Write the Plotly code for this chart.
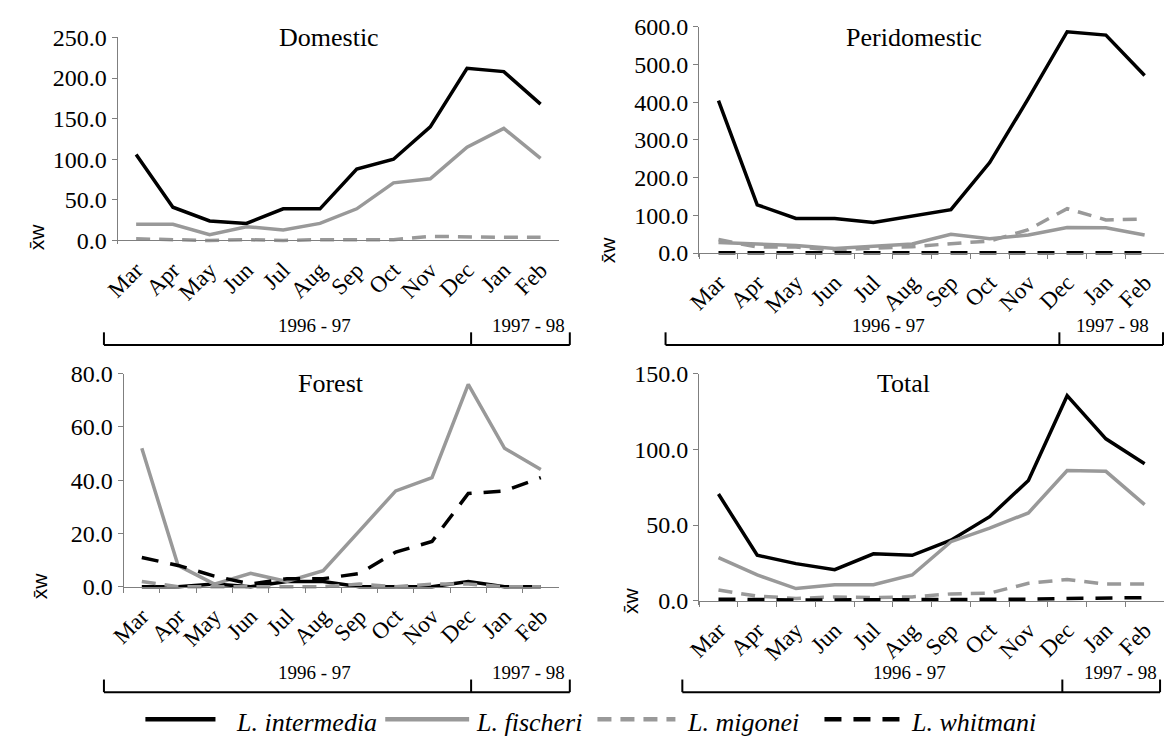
import plotly.graph_objects as go

# page body has a default 8px margin; figure is sized to fit inside it
OFF = 8
W, H = 1172 - 2 * OFF, 746 - 2 * OFF

months = ["Mar", "Apr", "May", "Jun", "Jul", "Aug", "Sep", "Oct", "Nov", "Dec", "Jan", "Feb"]

# Domestic
dom_intermedia = [106, 41, 24, 21, 39, 39, 88, 100, 140, 212, 208, 168]
dom_fischeri = [20, 20, 7, 17, 13, 21, 39, 71, 76, 115, 138, 101]
dom_migonei = [2, 1, 0, 1, 0, 1, 1, 1, 5, 4, 4, 4]

# Peridomestic
peri_intermedia = [404, 128, 92, 92, 81, 98, 115, 240, 410, 587, 578, 471]
peri_fischeri = [28, 24, 20, 12, 18, 24, 50, 38, 48, 68, 67, 48]
peri_migonei = [36, 16, 16, 8, 13, 17, 25, 32, 62, 118, 88, 90]
peri_whitmani = [1, 1, 1, 1, 1, 1, 1, 1, 1, 1, 1, 1]

# Forest
for_intermedia = [0, 0, 1, 0, 2, 2, 0, 0, 0, 2, 0, 0]
for_fischeri = [52, 8, 1, 5, 2, 6, 21, 36, 41, 76, 52, 44]
for_migonei = [2, 0, 0, 0, 0, 0, 1, 0, 1, 1, 0, 0]
for_whitmani = [11, 8, 4, 1, 3, 3, 5, 13, 17, 35, 36, 41]

# Total
tot_intermedia = [70.5, 30, 24.5, 20.5, 31, 30, 40, 55.5, 79.5, 135.5, 107, 90.5]
tot_fischeri = [28.5, 17, 8, 10.5, 10.5, 17, 39, 48, 58, 86, 85.5, 63.5]
tot_migonei = [7, 3, 1.5, 2.5, 2, 2.5, 4.5, 5, 11.5, 14, 11, 11]
tot_whitmani = [1, 0.5, 0.5, 0.5, 0.5, 0.5, 0.5, 1, 1, 1.5, 2, 2]

panel_titles = ["Domestic", "Peridomestic", "Forest", "Total"]
y_max = [250, 600, 80, 150]
y_step = [50, 100, 20, 50]
year_labels = ["1996 - 97", "1997 - 98"]
legend_names = ["L. intermedia", "L. fischeri", "L. migonei", "L. whitmani"]

BLACK = "#000000"
GRAY = "#999999"
SERIF = "Liberation Serif"
SANS = "Liberation Sans"

styles = {
    "L. intermedia": dict(color=BLACK, width=3.5, dash="solid"),
    "L. fischeri": dict(color=GRAY, width=3.5, dash="solid"),
    "L. migonei": dict(color=GRAY, width=3.5, dash="14px,9px"),
    "L. whitmani": dict(color=BLACK, width=3.5, dash="17px,12px"),
}

panels = [
    {"L. intermedia": dom_intermedia, "L. fischeri": dom_fischeri, "L. migonei": dom_migonei},
    {"L. intermedia": peri_intermedia, "L. fischeri": peri_fischeri, "L. migonei": peri_migonei,
     "L. whitmani": peri_whitmani},
    {"L. intermedia": for_intermedia, "L. fischeri": for_fischeri, "L. migonei": for_migonei,
     "L. whitmani": for_whitmani},
    {"L. intermedia": tot_intermedia, "L. fischeri": tot_fischeri, "L. migonei": tot_migonei,
     "L. whitmani": tot_whitmani},
]

# screen-pixel geometry: (left, right, zero_y, top_y)
geom = [
    (104, 551, 234.3, 25.0),
    (693, 1171, 247.3, 14.0),
    (110, 551, 591.3, 371.7),
    (693, 1171, 605.7, 371.7),
]
x_ticks_on = [False, True, True, True]
title_pos = [(318, 25), (911, 25), (320, 382), (900, 382)]
ylab_pos = [(21, 230), (601, 244), (25, 590), (624, 606)]
# bracket: (left, divider, right, line_y, tick_top_y, text_y, text1_x, text2_x)
brackets = [
    (90, 462, 562, 342, 329, 322, 303, 520),
    (659, 1058, 1163, 342, 329, 322, 885, 1112),
    (90, 462, 562, 700, 687, 680, 303, 520),
    (676, 1061, 1160, 700, 687, 680, 906, 1120),
]


def px(x):
    return (x - OFF) / W


def py(y):
    return 1 - (y - OFF) / H


fig = go.Figure()
layout = dict(
    width=W, height=H, margin=dict(l=0, r=0, t=0, b=0, pad=0),
    plot_bgcolor="white", paper_bgcolor="white", showlegend=False,
    font=dict(family=SERIF, color="black"),
)
shapes = []
annotations = []
PAD = 4

for i, data in enumerate(panels):
    n = i + 1
    xa = "x" if n == 1 else f"x{n}"
    ya = "y" if n == 1 else f"y{n}"
    for name, vals in data.items():
        fig.add_trace(go.Scatter(x=months, y=vals, mode="lines", line=styles[name],
                                 name=name, xaxis=xa, yaxis=ya, hoverinfo="skip"))
    l, r, z0, zt = geom[i]
    ymx = y_max[i]
    ppu = (z0 - zt) / ymx
    ymin = -PAD / ppu
    tv = list(range(0, ymx + 1, y_step[i]))
    layout["xaxis" if n == 1 else f"xaxis{n}"] = dict(
        domain=[px(l), min(px(r), 1.0)], anchor="free", position=py(z0),
        type="category", range=[-0.5, 11.5],
        showline=True, linecolor="#7f7f7f", linewidth=1.2,
        ticks="outside" if x_ticks_on[i] else "", tickson="boundaries",
        ticklen=5, tickcolor="#7f7f7f", tickwidth=1,
        tickangle=-45, tickfont=dict(family=SERIF, size=23, color="black"),
        ticklabelstandoff=6,
        showgrid=False, zeroline=False, fixedrange=True,
    )
    layout["yaxis" if n == 1 else f"yaxis{n}"] = dict(
        domain=[py(z0 + PAD), py(zt)], anchor=xa, range=[ymin, ymx],
        tickvals=tv, ticktext=[f"{v:.1f}" for v in tv],
        showline=True, linecolor="#7f7f7f", linewidth=1.2,
        ticks="outside", ticklen=5, tickcolor="#7f7f7f",
        tickfont=dict(family=SERIF, size=24, color="black"),
        showgrid=False, zeroline=False, fixedrange=True,
    )
    tx, ty = title_pos[i]
    annotations.append(dict(x=px(tx), y=py(ty), xref="paper", yref="paper", text=panel_titles[i],
                            showarrow=False, xanchor="center", yanchor="middle",
                            font=dict(family=SERIF, size=26, color="black")))
    lx, ly = ylab_pos[i]
    annotations.append(dict(x=px(lx), y=py(ly), xref="paper", yref="paper", text="x\u0304w",
                            textangle=-90, showarrow=False, xanchor="center", yanchor="middle",
                            font=dict(family=SANS, size=21, color="black")))
    bl, bd, br, by, bt, tyy, t1, t2 = brackets[i]
    line = dict(color="black", width=2)
    shapes.append(dict(type="line", xref="paper", yref="paper", x0=px(bl), x1=px(br),
                       y0=py(by), y1=py(by), line=line))
    for bx in (bl, bd, br):
        shapes.append(dict(type="line", xref="paper", yref="paper", x0=px(bx), x1=px(bx),
                           y0=py(by), y1=py(bt), line=line))
    for txt, xx in zip(year_labels, (t1, t2)):
        annotations.append(dict(x=px(xx), y=py(tyy), xref="paper", yref="paper", text=txt,
                                showarrow=False, xanchor="center", yanchor="middle",
                                font=dict(family=SERIF, size=19, color="black")))

# legend drawn by hand
leg_y = 728
leg_lines = [(132, 203), (375, 460), (590, 669), (820, 901)]
leg_text_x = [222, 465, 679, 906]
for name, (x0, x1), tx in zip(legend_names, leg_lines, leg_text_x):
    st = styles[name]
    shapes.append(dict(type="line", xref="paper", yref="paper", x0=px(x0), x1=px(x1),
                       y0=py(leg_y), y1=py(leg_y),
                       line=dict(color=st["color"], width=4.5, dash=st["dash"])))
    annotations.append(dict(x=px(tx), y=py(leg_y + 3), xref="paper", yref="paper",
                            text=f"<i>{name}</i>", showarrow=False, xanchor="left",
                            yanchor="middle", font=dict(family=SERIF, size=26, color="black")))

layout["shapes"] = shapes
layout["annotations"] = annotations
fig.update_layout(**layout)
fig.write_html("out.html")
